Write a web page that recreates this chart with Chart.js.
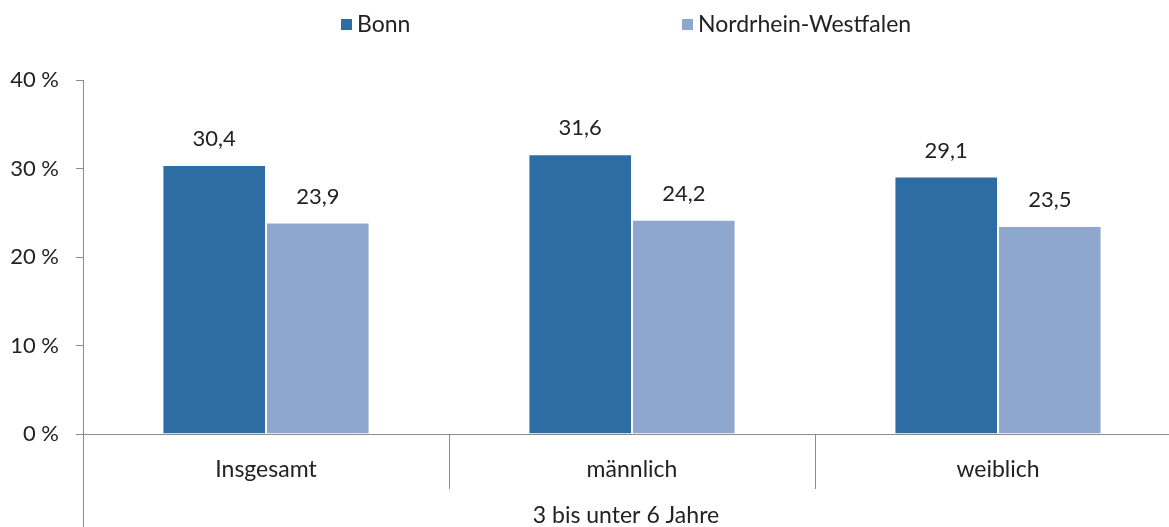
<!DOCTYPE html>
<html>
<head>
<meta charset="utf-8">
<script src="https://cdn.jsdelivr.net/npm/chart.js@4"></script>
<style>
  html, body { margin: 0; padding: 0; background: #fff; overflow: hidden; }
  #wrap { width: 1181px; height: 527px; position: relative; }
</style>
</head>
<body>
<div id="wrap"><canvas id="chart"></canvas></div>
<script>
// ---- data ----
const categories = ['Insgesamt', 'männlich', 'weiblich'];
const groupLabel = '3 bis unter 6 Jahre';
const bonnValues = [30.4, 31.6, 29.1];
const nrwValues = [23.9, 24.2, 23.5];
const seriesNames = ['Bonn', 'Nordrhein-Westfalen'];
const yTicks = [0, 10, 20, 30, 40];

const FONT = 'Lato, "Noto Sans", sans-serif';
const TEXT = '#222';
const AXIS = '#8c8c8c';
const colors = ['#2e6ca4', '#8ea7cf'];
const VIEW_W = 1169;

function fmt(v) {
  return v.toFixed(1).replace('.', ',');
}

// value labels above bars
const valueLabels = {
  id: 'valueLabels',
  afterDatasetsDraw(chart) {
    const ctx = chart.ctx;
    ctx.save();
    ctx.font = '22px ' + FONT;
    ctx.fillStyle = TEXT;
    ctx.textAlign = 'center';
    ctx.textBaseline = 'middle';
    chart.data.datasets.forEach((ds, i) => {
      chart.getDatasetMeta(i).data.forEach((bar, j) => {
        ctx.fillText(fmt(ds.data[j]), bar.x, bar.y - 26);
      });
    });
    ctx.restore();
  }
};

// axis extras: y-axis running down, category separators, group label
const axisExtras = {
  id: 'axisExtras',
  afterDraw(chart) {
    const ctx = chart.ctx;
    const area = chart.chartArea;
    const x = chart.scales.x;
    ctx.save();
    ctx.strokeStyle = AXIS;
    ctx.lineWidth = 1;
    ctx.beginPath();
    ctx.moveTo(area.left + 0.5, area.bottom);
    ctx.lineTo(area.left + 0.5, chart.height);
    for (let i = 0; i < categories.length - 1; i++) {
      const sx = Math.round((x.getPixelForTick(i) + x.getPixelForTick(i + 1)) / 2) + 0.5;
      ctx.moveTo(sx, area.bottom);
      ctx.lineTo(sx, area.bottom + 55);
    }
    ctx.stroke();
    ctx.font = '23px ' + FONT;
    ctx.fillStyle = TEXT;
    ctx.textAlign = 'center';
    ctx.textBaseline = 'middle';
    ctx.fillText(groupLabel, (area.left + VIEW_W) / 2, area.bottom + 82);
    ctx.restore();
  }
};

// legend drawn at top
const topLegend = {
  id: 'topLegend',
  afterDraw(chart) {
    const ctx = chart.ctx;
    const pos = [341, 682];
    ctx.save();
    ctx.font = '23px ' + FONT;
    ctx.textBaseline = 'middle';
    seriesNames.forEach((name, i) => {
      ctx.fillStyle = colors[i];
      ctx.fillRect(pos[i], 19, 11, 11);
      ctx.fillStyle = TEXT;
      ctx.textAlign = 'left';
      ctx.fillText(name, pos[i] + 16, 25);
    });
    ctx.restore();
  }
};

new Chart(document.getElementById('chart'), {
  type: 'bar',
  data: {
    labels: categories,
    datasets: [
      { label: seriesNames[0], data: bonnValues, backgroundColor: colors[0], borderColor: '#ffffff', borderWidth: 1 },
      { label: seriesNames[1], data: nrwValues, backgroundColor: colors[1], borderColor: '#ffffff', borderWidth: 1 }
    ]
  },
  options: {
    responsive: true,
    maintainAspectRatio: false,
    animation: false,
    layout: { padding: { top: 80, right: 0, left: 0, bottom: 0 } },
    categoryPercentage: 0.566,
    barPercentage: 1.0,
    plugins: {
      legend: { display: false },
      tooltip: { enabled: false }
    },
    scales: {
      x: {
        grid: { display: false },
        border: { color: AXIS },
        ticks: { color: TEXT, font: { family: FONT, size: 23 }, padding: 14 },
        afterFit(s) { s.height = 93; }
      },
      y: {
        min: 0,
        max: 40,
        afterBuildTicks(s) { s.ticks = yTicks.map(v => ({ value: v })); },
        grid: { drawOnChartArea: false, tickLength: 7, color: AXIS },
        border: { color: AXIS },
        ticks: { color: TEXT, font: { family: FONT, size: 22 }, padding: 17, callback: v => v + ' %' },
        afterFit(s) { s.width = 83; }
      }
    }
  },
  plugins: [valueLabels, axisExtras, topLegend]
});
</script>
</body>
</html>
